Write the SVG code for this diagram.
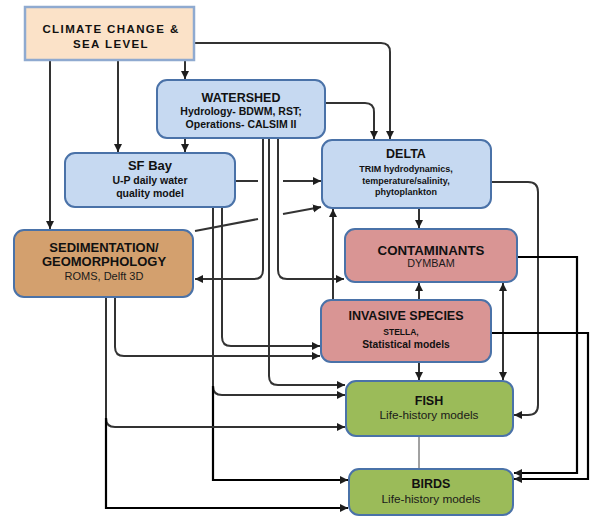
<svg xmlns="http://www.w3.org/2000/svg" width="591" height="517" viewBox="0 0 591 517">
<defs>
<marker id="ah" markerUnits="userSpaceOnUse" markerWidth="9" markerHeight="9" refX="8" refY="4" orient="auto-start-reverse"><path d="M0,0 L8,4 L0,8 z" fill="#1e1e1e"/></marker>
<style>
.box{stroke:#4a72a8;stroke-width:2}
.blue{fill:#c6d9f1}
.peach{fill:#fbe2c8;stroke:#8faad0;stroke-width:2.5}
.tan{fill:#d3a06e}
.pink{fill:#d99594}
.green{fill:#9bbb59}
.t{font-family:"Liberation Sans",Arial,sans-serif;font-weight:bold;fill:#111;text-anchor:middle}
.s{font-family:"Liberation Sans",Arial,sans-serif;fill:#1a1a1a;text-anchor:middle}
.c{fill:none;stroke:#333;stroke-width:2}
.k{fill:none;stroke:#000;stroke-width:2.2}
.a{marker-end:url(#ah)}
</style>
</defs>
<rect width="591" height="517" fill="#ffffff"/>
<g id="connectors">
<path class="c a" d="M50,60 V229"/>
<path class="c a" d="M118,60 V152"/>
<path class="c a" d="M185,60 V79"/>
<path class="c a" d="M194,43 H381 Q390,43 390,52 V139"/>
<path class="c a" d="M325,103 H365 Q374,103 374,112 V139"/>
<path class="c a" d="M185,138 V152"/>
<path class="c a" d="M263,138 V270 Q263,279 254,279 H195"/>
<path class="c a" d="M278,138 V270 Q278,279 287,279 H344"/>
<path class="c a" d="M269,138 V376 Q269,385 278,385 H345"/>
<path class="c" d="M235,181 H258"/>
<path class="c a" d="M283,181 H321"/>
<path class="c a" d="M222,207 V337 Q222,346 231,346 H320"/>
<path class="c a" d="M213,207 V386 Q213,395 222,395 H345"/>
<path class="k a" d="M213,386 V480 H348"/>
<path class="c" d="M195,231 L258,219"/>
<path class="c a" d="M283,214 L321,207"/>
<path class="c a" d="M115,297 V347 Q115,356 124,356 H320"/>
<path class="c a" d="M106,297 V418 Q106,427 115,427 H345"/>
<path class="k a" d="M106,418 V508 H348"/>
<path class="c a" d="M419,208 V228"/>
<path class="c a" d="M333,300 V209"/>
<path class="c a" d="M419,300 V283"/>
<path class="c a" d="M503,380 V283" style="marker-start:url(#ah)"/>
<path class="c a" d="M419,362 V380"/>
<path class="c a" d="M491,182 H528 Q538,182 538,192 V405 Q538,415 528,415 H514"/>
<path class="k a" d="M517,257 H577 V473 H514"/>
<path class="k a" d="M491,333 H588 V479 H514"/>
<path d="M419,436 V469" fill="none" stroke="#444" stroke-width="1"/>
</g>
<g id="climate">
<rect class="peach" x="25" y="7" width="169" height="53"/>
<text class="t" x="111" y="33" font-size="11.5" letter-spacing="1.4">CLIMATE CHANGE &amp;</text>
<text class="t" x="111" y="48" font-size="11.5" letter-spacing="1.4">SEA LEVEL</text>
</g>
<g id="watershed">
<rect class="box blue" x="157" y="80" width="168" height="58" rx="10"/>
<text class="t" x="241" y="102" font-size="12.5">WATERSHED</text>
<text class="t" x="241" y="115" font-size="10.5">Hydrology- BDWM, RST;</text>
<text class="t" x="241" y="128" font-size="10.5">Operations- CALSIM II</text>
</g>
<g id="sfbay">
<rect class="box blue" x="65" y="153" width="170" height="54" rx="10"/>
<text class="t" x="150" y="170" font-size="13">SF Bay</text>
<text class="t" x="150" y="184" font-size="10.5" font-weight="normal" style="font-weight:600">U-P daily water</text>
<text class="t" x="150" y="197" font-size="10.5" style="font-weight:600">quality model</text>
</g>
<g id="delta">
<rect class="box blue" x="322" y="140" width="169" height="68" rx="10"/>
<text class="t" x="406" y="158" font-size="12.5">DELTA</text>
<text class="t" x="406" y="172" font-size="9">TRIM hydrodynamics,</text>
<text class="t" x="406" y="184" font-size="9">temperature/salinity,</text>
<text class="t" x="406" y="195" font-size="9">phytoplankton</text>
</g>
<g id="sedimentation">
<rect class="box tan" x="14" y="230" width="179" height="67" rx="10"/>
<text class="t" x="104" y="252" font-size="13">SEDIMENTATION/</text>
<text class="t" x="104" y="266" font-size="13">GEOMORPHOLOGY</text>
<text class="s" x="104" y="280" font-size="11">ROMS, Delft 3D</text>
</g>
<g id="contaminants">
<rect class="box pink" x="345" y="229" width="172" height="53" rx="10"/>
<text class="t" x="431" y="255" font-size="13.3">CONTAMINANTS</text>
<text class="s" x="431" y="267" font-size="10.8">DYMBAM</text>
</g>
<g id="invasive">
<rect class="box pink" x="321" y="300" width="170" height="62" rx="10"/>
<text class="t" x="406" y="320" font-size="12.5">INVASIVE SPECIES</text>
<text class="t" x="401" y="335" font-size="8.5">STELLA,</text>
<text class="t" x="406" y="348" font-size="10.3">Statistical models</text>
</g>
<g id="fish">
<rect class="box green" x="346" y="381" width="167" height="55" rx="10"/>
<text class="t" x="429" y="405" font-size="12.5">FISH</text>
<text class="s" x="429" y="419" font-size="11.8">Life-history models</text>
</g>
<g id="birds">
<rect class="box green" x="349" y="469" width="164" height="46" rx="10"/>
<text class="t" x="431" y="488" font-size="12.5">BIRDS</text>
<text class="s" x="431" y="503" font-size="11.8">Life-history models</text>
</g>
</svg>
